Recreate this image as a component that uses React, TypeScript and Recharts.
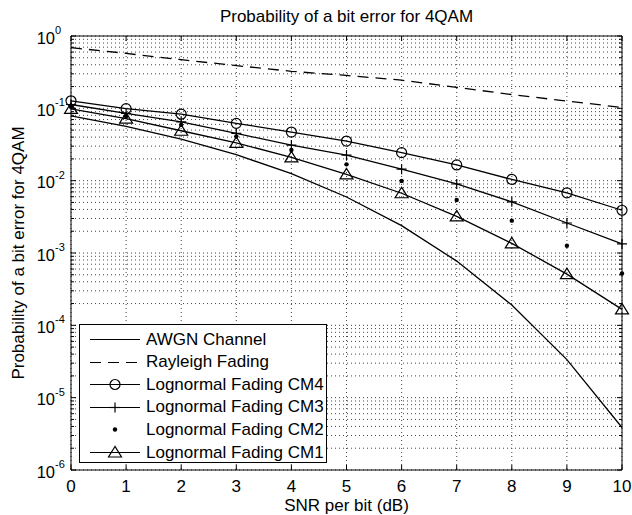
import React from 'react';
import { LineChart, Line, XAxis, YAxis, CartesianGrid, ReferenceArea, Legend } from 'recharts';

const snr = [0, 1, 2, 3, 4, 5, 6, 7, 8, 9, 10];
const awgn = [0.0786, 0.0563, 0.0375, 0.0229, 0.0125, 0.00595, 0.00239, 0.000773, 0.000191, 0.0000336, 0.00000387];
const rayleigh = [0.69, 0.575, 0.47, 0.39, 0.325, 0.285, 0.245, 0.195, 0.155, 0.126, 0.103];
const cm4 = [0.127, 0.099, 0.083, 0.062, 0.047, 0.0353, 0.0244, 0.0165, 0.0104, 0.0068, 0.0039];
const cm3 = [0.113, 0.085, 0.065, 0.045, 0.031, 0.0226, 0.0144, 0.009, 0.0051, 0.0026, 0.00134];
const cm2 = [0.105, 0.078, 0.059, 0.041, 0.0265, 0.0168, 0.0099, 0.0054, 0.0028, 0.00126, 0.00052];
const cm1 = [0.098, 0.072, 0.049, 0.0333, 0.021, 0.0122, 0.0067, 0.0032, 0.00136, 0.00051, 0.000166];

const xTicks = [0, 1, 2, 3, 4, 5, 6, 7, 8, 9, 10];
const decades = [-6, -5, -4, -3, -2, -1, 0];
const minorSteps = [1, 2, 3, 4, 5, 6, 7, 8, 9];

const yTicks = decades.flatMap((d) => (d === 0 ? [1] : minorSteps.map((m) => m * Math.pow(10, d))));

const data = snr.map((s, i) => ({
  snr: s,
  awgn: awgn[i],
  rayleigh: rayleigh[i],
  cm4: cm4[i],
  cm3: cm3[i],
  cm2: cm2[i],
  cm1: cm1[i],
}));

// plot box (page px)
const L = 71;
const R = 622;
const T = 36;
const B = 470;
const FONT = '"Liberation Sans", Arial, sans-serif';
const DASH = '11 7';

const isDecade = (v: number) => Math.abs(Math.log10(v) - Math.round(Math.log10(v))) < 1e-9;

const YTick = (props: any) => {
  const { y, payload } = props;
  const v = payload.value;
  const major = isDecade(v);
  const len = major ? 5 : 3;
  return (
    <g>
      <line x1={L} x2={L + len} y1={y} y2={y} stroke="#000" />
      <line x1={R} x2={R - len} y1={y} y2={y} stroke="#000" />
      {major && (
        <text x={55} y={y + 7.5} textAnchor="end" fontSize={16.5} fontFamily={FONT} fill="#000">
          10
        </text>
      )}
      {major && (
        <text x={55} y={y - 2} textAnchor="start" fontSize={11} fontFamily={FONT} fill="#000">
          {Math.round(Math.log10(v))}
        </text>
      )}
    </g>
  );
};

const XTick = (props: any) => {
  const { x, payload } = props;
  return (
    <g>
      <line x1={x} x2={x} y1={B} y2={B - 5} stroke="#000" />
      <line x1={x} x2={x} y1={T} y2={T + 5} stroke="#000" />
      <text x={x} y={B + 22} textAnchor="middle" fontSize={17} fontFamily={FONT} fill="#000">
        {payload.value}
      </text>
    </g>
  );
};

const Circle = (cx: number, cy: number, k: string) => (
  <circle key={k} cx={cx} cy={cy} r={5} fill="none" stroke="#000" strokeWidth={1.2} />
);
const Plus = (cx: number, cy: number, k: string) => (
  <g key={k}>
    <line x1={cx - 5} x2={cx + 5} y1={cy} y2={cy} stroke="#000" strokeWidth={1.2} />
    <line x1={cx} x2={cx} y1={cy - 5} y2={cy + 5} stroke="#000" strokeWidth={1.2} />
  </g>
);
const Dot = (cx: number, cy: number, k: string) => <circle key={k} cx={cx} cy={cy} r={2.2} fill="#000" />;
const Tri = (cx: number, cy: number, k: string) => (
  <polygon
    key={k}
    points={`${cx},${cy - 6} ${cx - 6.5},${cy + 4.5} ${cx + 6.5},${cy + 4.5}`}
    fill="none"
    stroke="#000"
    strokeWidth={1.2}
  />
);

const mk = (fn: (cx: number, cy: number, k: string) => React.ReactElement) => (p: any) =>
  fn(p.cx, p.cy, `m-${p.index}`);

const legendRows = [
  { label: 'AWGN Channel', dash: undefined as string | undefined, line: true, marker: null as any },
  { label: 'Rayleigh Fading', dash: DASH, line: true, marker: null },
  { label: 'Lognormal Fading CM4', dash: undefined, line: true, marker: Circle },
  { label: 'Lognormal Fading CM3', dash: undefined, line: true, marker: Plus },
  { label: 'Lognormal Fading CM2', dash: undefined, line: false, marker: Dot },
  { label: 'Lognormal Fading CM1', dash: undefined, line: true, marker: Tri },
];

const LegendBox = () => (
  <div
    style={{
      position: 'absolute',
      left: L + 8,
      top: 324,
      width: 248,
      height: 139,
      border: '1px solid #000',
      background: '#fff',
      boxSizing: 'border-box',
    }}
  >
    {legendRows.map((r, i) => (
      <div key={r.label} style={{ position: 'absolute', left: 0, top: 3 + i * 22.6, height: 23, display: 'flex', alignItems: 'center' }}>
        <svg width={64} height={23} style={{ display: 'block' }}>
          {r.line && <line x1={10} x2={60} y1={11.5} y2={11.5} stroke="#000" strokeWidth={1.2} strokeDasharray={r.dash} />}
          {r.marker && r.marker(35, 11.5, 'lg')}
        </svg>
        <span style={{ fontFamily: FONT, fontSize: 17, color: '#000', whiteSpace: 'nowrap', marginLeft: 2 }}>{r.label}</span>
      </div>
    ))}
  </div>
);

export default function App() {
  return (
    <div style={{ position: 'absolute', left: 0, top: 0, width: 632, height: 515, background: '#fff' }}>
      <LineChart width={632} height={515} data={data} margin={{ top: T, right: 632 - R, bottom: 0, left: 0 }}>
        <CartesianGrid stroke="#444" strokeDasharray="1 3" strokeWidth={1} />
        <XAxis
          dataKey="snr"
          type="number"
          domain={[0, 10]}
          ticks={xTicks}
          height={515 - B}
          axisLine={false}
          tickLine={false}
          tick={<XTick />}
          interval={0}
        />
        <YAxis
          type="number"
          scale="log"
          domain={[1e-6, 1]}
          ticks={yTicks}
          width={L}
          axisLine={false}
          tickLine={false}
          tick={<YTick />}
          interval={0}
          allowDataOverflow
        />
        <ReferenceArea x1={0} x2={10} y1={1e-6} y2={1} fill="none" stroke="#000" strokeWidth={1} ifOverflow="visible" />
        <Line dataKey="awgn" stroke="#000" strokeWidth={1.3} dot={false} isAnimationActive={false} />
        <Line dataKey="rayleigh" stroke="#000" strokeWidth={1.3} strokeDasharray={DASH} dot={false} isAnimationActive={false} />
        <Line dataKey="cm4" stroke="#000" strokeWidth={1.3} dot={mk(Circle)} isAnimationActive={false} />
        <Line dataKey="cm3" stroke="#000" strokeWidth={1.3} dot={mk(Plus)} isAnimationActive={false} />
        <Line dataKey="cm2" stroke="none" strokeWidth={0} dot={mk(Dot)} isAnimationActive={false} />
        <Line dataKey="cm1" stroke="#000" strokeWidth={1.3} dot={mk(Tri)} isAnimationActive={false} />
        <Legend content={() => <LegendBox />} wrapperStyle={{ position: 'absolute', left: 0, top: 0, width: 0, height: 0 }} />
      </LineChart>
      <div
        style={{
          position: 'absolute',
          left: L,
          width: R - L,
          top: 7,
          textAlign: 'center',
          fontFamily: FONT,
          fontSize: 17,
          color: '#000',
        }}
      >
        Probability of a bit error for 4QAM
      </div>
      <div
        style={{
          position: 'absolute',
          left: L,
          width: R - L,
          top: 497,
          lineHeight: '17px',
          textAlign: 'center',
          fontFamily: FONT,
          fontSize: 17,
          color: '#000',
        }}
      >
        SNR per bit (dB)
      </div>
      <div
        style={{
          position: 'absolute',
          left: 19,
          top: (T + B) / 2,
          transform: 'translate(-50%, -50%) rotate(-90deg)',
          fontFamily: FONT,
          fontSize: 17,
          color: '#000',
          whiteSpace: 'nowrap',
        }}
      >
        Probability of a bit error for 4QAM
      </div>
    </div>
  );
}
